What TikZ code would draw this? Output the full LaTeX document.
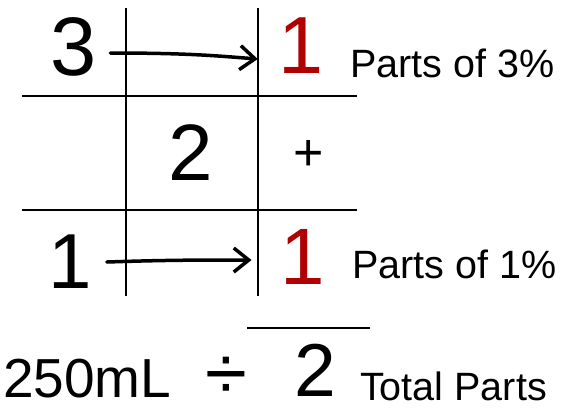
\documentclass[tikz,border=0pt]{standalone}
\usepackage{fontspec}
\setmainfont{Liberation Sans}
\usetikzlibrary{arrows.meta,calc}
\definecolor{r176g0b0}{RGB}{176,0,0}
\tikzset{
  digit/.style={inner sep=0pt, anchor=base, font=\fontsize{#1}{#1}\selectfont},
  parts/.style={inner sep=0pt, anchor=base west, font=\fontsize{39.5}{40}\selectfont},
  grid line/.style={line width=2pt},
  hand arrow/.style={line width=3.5pt, line cap=round,
    -{Straight Barb[length=15pt,width=24pt,line width=3.5pt]}},
}
\begin{document}
\begin{tikzpicture}[x=1pt,y=-1pt]
\useasboundingbox (0,0) rectangle (571,408);

% Drawing the grid
\draw[grid line] (126,8) -- (126,296);
\draw[grid line] (258,8) -- (258,296);
\draw[grid line] (22,96) -- (357,96);
\draw[grid line] (22,210) -- (357,210);

% Top row
\node[digit=83] (top left) at (74,75) {3};
\node[digit=81, text=r176g0b0] (top right) at (301,73) {1};
\node[parts] (top parts) at (350,77) {Parts of 3\%};

% Middle row
\node[digit=80] (middle) at (191,180) {2};
\node[digit=52] (plus) at (309,170) {+};

% Bottom row
\node[digit=78] (bottom left) at (70,288) {1};
\node[digit=80, text=r176g0b0] (bottom right) at (303,284) {1};
\node[parts] (bottom parts) at (352,278) {Parts of 1\%};

% Arrows
\draw[hand arrow] ($(top left.base east)+(13,-22)$) .. controls +(80,0) and +(-40,-3) .. ($(top right.base west)+(-20.5,-14)$);
\draw[hand arrow] ($(bottom left.base east)+(15,-26)$) .. controls +(60,-2) and +(-50,0) .. ($(bottom right.base west)+(-29,-24)$);

% Division
\node[inner sep=0pt, anchor=base west, font=\fontsize{55}{55}\selectfont] (volume) at (3,397) {250mL};
\node[digit=76] (divide) at (226,399) {÷};
\node[digit=75] (total) at (315,396) {2};
\node[parts] (total parts) at (360,400) {Total Parts};
\draw[grid line] (247,328) -- (370,328);
\end{tikzpicture}
\end{document}
